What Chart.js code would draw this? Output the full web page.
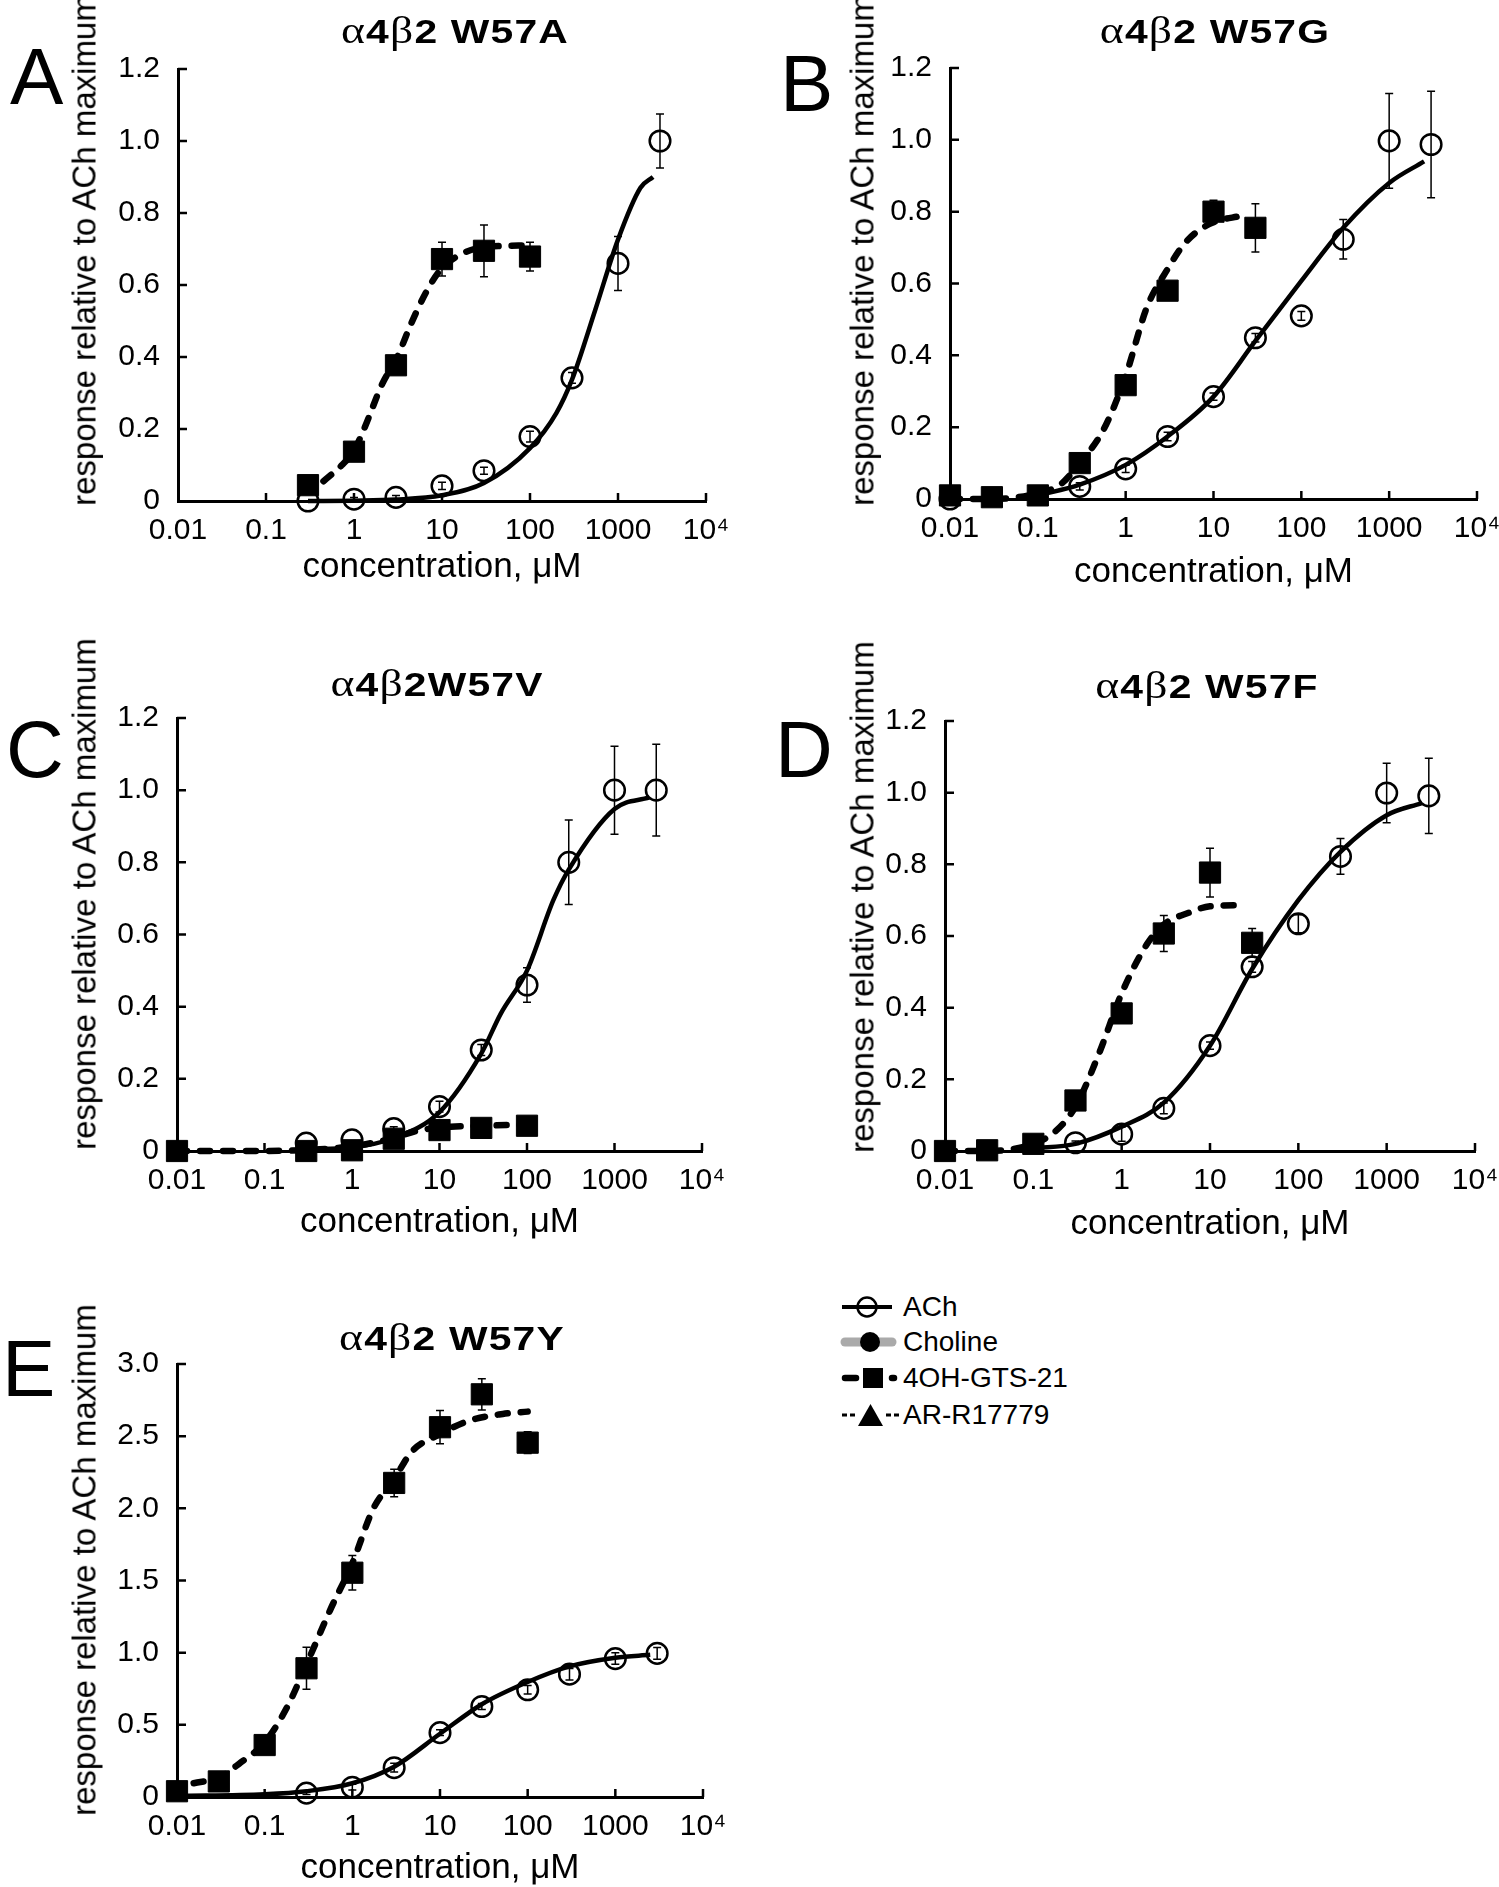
<!DOCTYPE html>
<html>
<head>
<meta charset="utf-8">
<script src="https://cdn.jsdelivr.net/npm/chart.js@4.4.0/dist/chart.umd.min.js"></script>
<style>
  body { margin: 0; background: #fff; }
  #page { position: relative; width: 1499px; height: 1887px; overflow: hidden; background: #fff;
          font-family: 'Liberation Sans', Arial, Helvetica, sans-serif; color: #000; }
  .letter { position: absolute; font-size: 80px; line-height: 80px; }
  .title { position: absolute; width: 460px; text-align: center; font-size: 34px; line-height: 36px;
           font-weight: bold; white-space: nowrap; letter-spacing: 1px; transform: scaleX(1.2); }
  .title .g { font-family: 'Liberation Serif', 'Times New Roman', serif; font-weight: normal; font-size: 38px; }
  .ylab { position: absolute; font-size: 33px; line-height: 33px; white-space: nowrap;
          transform: translate(-50%, -50%) rotate(-90deg); }
  .leg { position: absolute; left: 840px; height: 34px; display: flex; align-items: center; font-size: 28px; }
  .leg svg { width: 60px; height: 34px; margin-right: 3px; }
</style>
</head>
<body>
<div id="page">
  <div class="leg" style="top:1290px">
    <svg viewBox="0 0 60 34"><line x1="2" y1="17" x2="52" y2="17" stroke="#000" stroke-width="4"/><circle cx="27" cy="17" r="9.5" fill="none" stroke="#000" stroke-width="2.5"/></svg>ACh
  </div>
  <div class="leg" style="top:1325px">
    <svg viewBox="0 0 60 34"><line x1="5" y1="17" x2="52" y2="17" stroke="#aaa" stroke-width="9" stroke-linecap="round"/><circle cx="30" cy="17" r="10" fill="#000"/></svg>Choline
  </div>
  <div class="leg" style="top:1361px">
    <svg viewBox="0 0 60 34"><line x1="5" y1="17" x2="16" y2="17" stroke="#000" stroke-width="6.5" stroke-linecap="round"/><rect x="23" y="7" width="20" height="20" fill="#000"/><line x1="52" y1="17" x2="54" y2="17" stroke="#000" stroke-width="6.5" stroke-linecap="round"/></svg>4OH-GTS-21
  </div>
  <div class="leg" style="top:1398px">
    <svg viewBox="0 0 60 34"><path d="M2 17h5M10 17h5M46 17h5M54 17h5" stroke="#000" stroke-width="3"/><path d="M18 28 L30.5 6 L43 28 Z" fill="#000"/></svg>AR-R17779
  </div>
</div>

<script>
// concentration axis (uM) and response axis ticks
const xTickVals = [0.01, 0.1, 1, 10, 100, 1000, 10000];
const xTickLabels = ['0.01', '0.1', '1', '10', '100', '1000', '10\u2074'];
const yTicksSmall = [0, 0.2, 0.4, 0.6, 0.8, 1.0, 1.2];
const yLabelsSmall = ['0', '0.2', '0.4', '0.6', '0.8', '1.0', '1.2'];
const yTicksBig = [0, 0.5, 1.0, 1.5, 2.0, 2.5, 3.0];
const yLabelsBig = ['0', '0.5', '1.0', '1.5', '2.0', '2.5', '3.0'];

// A: W57A
const achConcA = [0.3, 1, 3, 10, 30, 100, 300, 1000, 3000];
const achRespA = [0.0, 0.005, 0.01, 0.042, 0.084, 0.179, 0.342, 0.66, 1.0];
const achErrA = [0, 0.005, 0.005, 0.01, 0.01, 0.015, 0.015, 0.075, 0.075];
const gtsConcA = [0.3, 1, 3, 10, 30, 100];
const gtsRespA = [0.044, 0.137, 0.377, 0.672, 0.695, 0.679];
const gtsErrA = [0.01, 0.01, 0.02, 0.047, 0.072, 0.04];
const achFitConcA = [0.3, 1, 3, 10, 30, 100, 200, 300, 550, 1000, 1800, 2500];
const achFitRespA = [0, 0.001, 0.004, 0.016, 0.05, 0.147, 0.245, 0.337, 0.53, 0.726, 0.87, 0.9];
const gtsFitConcA = [0.45, 0.73, 1, 1.3, 2.1, 3.1, 4.5, 6.6, 9.6, 16, 30, 100];
const gtsFitRespA = [0.055, 0.1, 0.14, 0.2, 0.326, 0.4, 0.495, 0.58, 0.642, 0.684, 0.705, 0.71];

// B: W57G
const achConcB = [0.01, 0.3, 1, 3, 10, 30, 100, 300, 1000, 3000];
const achRespB = [0, 0.035, 0.084, 0.174, 0.285, 0.449, 0.51, 0.723, 0.997, 0.987];
const achErrB = [0, 0.01, 0.01, 0.012, 0.01, 0.012, 0.012, 0.055, 0.132, 0.148];
const gtsConcB = [0.01, 0.03, 0.1, 0.3, 1, 3, 10, 30];
const gtsRespB = [0.01, 0.005, 0.01, 0.1, 0.317, 0.58, 0.8, 0.755];
const gtsErrB = [0, 0, 0, 0.01, 0.01, 0.01, 0.032, 0.067];
const achFitConcB = [0.1, 0.3, 1, 3, 10, 30, 100, 300, 1000, 2500];
const achFitRespB = [0.01, 0.04, 0.095, 0.174, 0.285, 0.44, 0.607, 0.755, 0.88, 0.94];
const gtsFitConcB = [0.01, 0.03, 0.1, 0.18, 0.3, 0.565, 1, 1.74, 3, 4.7, 8.9, 22];
const gtsFitRespB = [0, 0, 0.016, 0.04, 0.1, 0.195, 0.343, 0.533, 0.64, 0.712, 0.765, 0.79];

// C: W57V
const achConcC = [0.3, 1, 3, 10, 30, 100, 300, 1000, 3000];
const achRespC = [0.022, 0.031, 0.062, 0.123, 0.28, 0.46, 0.8, 1.0, 1.0];
const achErrC = [0, 0, 0.005, 0.015, 0.015, 0.048, 0.117, 0.122, 0.127];
const gtsConcC = [0.01, 0.3, 1, 3, 10, 30, 100];
const gtsRespC = [0, 0, 0.002, 0.034, 0.058, 0.064, 0.07];
const gtsErrC = [0, 0, 0, 0, 0, 0, 0];
const achFitConcC = [0.3, 1, 3, 10, 30, 50, 100, 200, 300, 1000, 2500];
const achFitRespC = [0.005, 0.01, 0.036, 0.108, 0.27, 0.38, 0.5, 0.695, 0.78, 0.948, 0.98];
const gtsFitConcC = [0.01, 0.1, 0.3, 1, 3, 5.3, 10, 30, 100];
const gtsFitRespC = [0, 0, 0.003, 0.013, 0.036, 0.055, 0.065, 0.07, 0.073];

// D: W57F
const achConcD = [0.3, 1, 3, 10, 30, 100, 300, 1000, 3000];
const achRespD = [0.023, 0.047, 0.119, 0.294, 0.514, 0.634, 0.822, 0.999, 0.991];
const achErrD = [0.005, 0.02, 0.015, 0.01, 0.015, 0.025, 0.05, 0.083, 0.105];
const gtsConcD = [0.01, 0.03, 0.1, 0.3, 1, 3, 10, 30];
const gtsRespD = [0, 0.002, 0.02, 0.141, 0.384, 0.607, 0.777, 0.581];
const gtsErrD = [0, 0, 0, 0.01, 0.01, 0.05, 0.068, 0.04];
const achFitConcD = [0.1, 0.3, 1, 3, 10, 30, 100, 300, 1000, 2500];
const achFitRespD = [0.007, 0.02, 0.068, 0.135, 0.294, 0.508, 0.7, 0.835, 0.937, 0.971];
const gtsFitConcD = [0.01, 0.03, 0.1, 0.18, 0.3, 0.55, 1, 1.92, 3, 5.9, 10, 23];
const gtsFitRespD = [0, 0, 0.02, 0.056, 0.124, 0.27, 0.44, 0.576, 0.632, 0.666, 0.683, 0.686];

// E: W57Y
const achConcE = [0.3, 1, 3, 10, 30, 100, 300, 1000, 3000];
const achRespE = [0.027, 0.068, 0.203, 0.446, 0.627, 0.743, 0.851, 0.959, 0.995];
const achErrE = [0.01, 0.02, 0.03, 0.02, 0.02, 0.03, 0.04, 0.04, 0.04];
const gtsConcE = [0.01, 0.03, 0.1, 0.3, 1, 3, 10, 30, 100];
const gtsRespE = [0.04, 0.108, 0.36, 0.892, 1.554, 2.176, 2.562, 2.79, 2.455];
const gtsErrE = [0, 0, 0, 0.145, 0.12, 0.095, 0.115, 0.108, 0.075];
const achFitConcE = [0.01, 0.1, 0.3, 1, 3, 10, 30, 100, 300, 1000, 2500];
const achFitRespE = [0.008, 0.019, 0.04, 0.095, 0.21, 0.438, 0.643, 0.797, 0.905, 0.965, 0.985];
const gtsFitConcE = [0.0155, 0.03, 0.051, 0.1, 0.18, 0.3, 0.56, 1, 1.74, 3, 4.75, 10, 21.6, 52, 100];
const gtsFitRespE = [0.095, 0.135, 0.23, 0.378, 0.622, 0.919, 1.297, 1.62, 2.0, 2.203, 2.392, 2.514, 2.608, 2.654, 2.67];

const FONT = "'Liberation Sans', Arial, Helvetica, sans-serif";
const TICK_SIZE = 30, XTITLE_SIZE = 35;
const AXIS_W = 110, PAD_T = 24, PAD_R = 44;

const panels = [
  { letter: 'A', letterAt: [10, 37], title: '<span class="g">\u03b1</span>4<span class="g">\u03b2</span>2 W57A', titleAt: [455, 30],
    area: { l: 178, r: 706, t: 65, b: 501 }, xTitleY: 567, yTitleAt: [84, 250], yMax: 1.2, yTicks: yTicksSmall, yLabels: yLabelsSmall,
    ach: [achConcA, achRespA, achErrA], gts: [gtsConcA, gtsRespA, gtsErrA], achFit: [achFitConcA, achFitRespA], gtsFit: [gtsFitConcA, gtsFitRespA] },
  { letter: 'B', letterAt: [780, 44], title: '<span class="g">\u03b1</span>4<span class="g">\u03b2</span>2 W57G', titleAt: [1215, 30],
    area: { l: 950, r: 1477, t: 64, b: 499 }, xTitleY: 572, yTitleAt: [862, 250], yMax: 1.2, yTicks: yTicksSmall, yLabels: yLabelsSmall,
    ach: [achConcB, achRespB, achErrB], gts: [gtsConcB, gtsRespB, gtsErrB], achFit: [achFitConcB, achFitRespB], gtsFit: [gtsFitConcB, gtsFitRespB] },
  { letter: 'C', letterAt: [6, 710], title: '<span class="g">\u03b1</span>4<span class="g">\u03b2</span>2W57V', titleAt: [437, 683],
    area: { l: 177, r: 702, t: 714, b: 1151 }, xTitleY: 1222, yTitleAt: [84, 894], yMax: 1.2, yTicks: yTicksSmall, yLabels: yLabelsSmall,
    ach: [achConcC, achRespC, achErrC], gts: [gtsConcC, gtsRespC, gtsErrC], achFit: [achFitConcC, achFitRespC], gtsFit: [gtsFitConcC, gtsFitRespC] },
  { letter: 'D', letterAt: [775, 710], title: '<span class="g">\u03b1</span>4<span class="g">\u03b2</span>2 W57F', titleAt: [1207, 685],
    area: { l: 945, r: 1475, t: 717, b: 1151 }, xTitleY: 1224, yTitleAt: [862, 897], yMax: 1.2, yTicks: yTicksSmall, yLabels: yLabelsSmall,
    ach: [achConcD, achRespD, achErrD], gts: [gtsConcD, gtsRespD, gtsErrD], achFit: [achFitConcD, achFitRespD], gtsFit: [gtsFitConcD, gtsFitRespD] },
  { letter: 'E', letterAt: [2, 1329], title: '<span class="g">\u03b1</span>4<span class="g">\u03b2</span>2 W57Y', titleAt: [452, 1337],
    area: { l: 177, r: 703, t: 1360, b: 1797 }, xTitleY: 1868, yTitleAt: [84, 1560], yMax: 3.0, yTicks: yTicksBig, yLabels: yLabelsBig,
    ach: [achConcE, achRespE, achErrE], gts: [gtsConcE, gtsRespE, gtsErrE], achFit: [achFitConcE, achFitRespE], gtsFit: [gtsFitConcE, gtsFitRespE] }
];

function pts(xs, ys) {
  return xs.map((x, i) => ({ x: x, y: ys[i] }));
}

// vertical error bars with small caps, drawn over the markers
const errorBars = {
  id: 'errorBars',
  afterDatasetsDraw(chart) {
    const { ctx, scales: { x, y } } = chart;
    ctx.save();
    ctx.strokeStyle = '#000';
    ctx.lineWidth = 1.5;
    chart.data.datasets.forEach(ds => {
      if (!ds.errors) return;
      ds.data.forEach((p, i) => {
        const e = ds.errors[i];
        if (!e) return;
        const px = x.getPixelForValue(p.x);
        const top = y.getPixelForValue(p.y + e);
        const bot = y.getPixelForValue(Math.max(p.y - e, 0));
        ctx.beginPath();
        ctx.moveTo(px, top); ctx.lineTo(px, bot);
        ctx.moveTo(px - 4, top); ctx.lineTo(px + 4, top);
        ctx.moveTo(px - 4, bot); ctx.lineTo(px + 4, bot);
        ctx.stroke();
      });
    });
    ctx.restore();
  }
};

// short tick marks pointing into the plot area
const innerTicks = {
  id: 'innerTicks',
  afterDraw(chart) {
    const { ctx, chartArea, scales: { x, y } } = chart;
    ctx.save();
    ctx.strokeStyle = '#000';
    ctx.lineWidth = 2.5;
    ctx.beginPath();
    x.ticks.forEach((t, i) => {
      if (i === 0) return;
      const px = x.getPixelForValue(t.value);
      ctx.moveTo(px, chartArea.bottom);
      ctx.lineTo(px, chartArea.bottom - 8);
    });
    y.ticks.forEach((t, i) => {
      if (i === 0) return;
      const py = y.getPixelForValue(t.value);
      ctx.moveTo(chartArea.left, py);
      ctx.lineTo(chartArea.left + 9, py);
    });
    ctx.stroke();
    ctx.restore();
  }
};

function addText(cls, html, left, top) {
  const d = document.createElement('div');
  d.className = cls;
  d.innerHTML = html;
  d.style.left = left + 'px';
  d.style.top = top + 'px';
  document.getElementById('page').appendChild(d);
  return d;
}

function drawPanel(p) {
  const a = p.area;
  const xAxisH = Math.round(p.xTitleY + XTITLE_SIZE * 0.6 - a.b);
  const w = a.r - a.l + AXIS_W + PAD_R;
  const h = a.b - a.t + PAD_T + xAxisH;
  const canvas = document.createElement('canvas');
  canvas.width = w;
  canvas.height = h;
  canvas.style.cssText = 'position:absolute;left:' + (a.l - AXIS_W) + 'px;top:' + (a.t - PAD_T) + 'px;width:' + w + 'px;height:' + h + 'px';
  document.getElementById('page').appendChild(canvas);

  addText('letter', p.letter, p.letterAt[0], p.letterAt[1]);
  addText('title', p.title, p.titleAt[0] - 230, p.titleAt[1] - 18);
  addText('ylab', 'response relative to ACh maximum', p.yTitleAt[0], p.yTitleAt[1]);

  new Chart(canvas, {
    type: 'scatter',
    data: {
      datasets: [
        {
          data: pts(p.gts[0], p.gts[1]), errors: p.gts[2],
          pointStyle: 'rect', pointRadius: 15, pointBackgroundColor: '#000', pointBorderColor: '#000', pointBorderWidth: 1,
          showLine: false, clip: false
        },
        {
          data: pts(p.ach[0], p.ach[1]), errors: p.ach[2],
          pointStyle: 'circle', pointRadius: 10.3, pointBackgroundColor: 'rgba(0,0,0,0)', pointBorderColor: '#000', pointBorderWidth: 2.5,
          showLine: false, clip: false
        },
        {
          data: pts(p.gtsFit[0], p.gtsFit[1]),
          showLine: true, pointRadius: 0, borderColor: '#000', borderWidth: 6.5, borderDash: [10, 13], borderCapStyle: 'round',
          cubicInterpolationMode: 'monotone', fill: false, clip: false
        },
        {
          data: pts(p.achFit[0], p.achFit[1]),
          showLine: true, pointRadius: 0, borderColor: '#000', borderWidth: 4.5,
          cubicInterpolationMode: 'monotone', fill: false, clip: false
        }
      ]
    },
    options: {
      responsive: false,
      animation: false,
      layout: { padding: { top: PAD_T, right: PAD_R, left: 0, bottom: 0 } },
      plugins: { legend: { display: false }, tooltip: { enabled: false } },
      scales: {
        x: {
          type: 'logarithmic', min: 0.01, max: 10000,
          afterBuildTicks: s => { s.ticks = xTickVals.map(v => ({ value: v })); },
          afterFit: s => { s.height = xAxisH; },
          grid: { display: false },
          border: { display: true, color: '#000', width: 3 },
          ticks: { autoSkip: false, maxRotation: 0, padding: 4, color: '#000', font: { family: FONT, size: TICK_SIZE },
                   callback: (v, i) => xTickLabels[i] },
          title: { display: true, text: 'concentration, \u03bcM', color: '#000', font: { family: FONT, size: XTITLE_SIZE }, padding: 0 }
        },
        y: {
          type: 'linear', min: 0, max: p.yMax,
          afterBuildTicks: s => { s.ticks = p.yTicks.map(v => ({ value: v })); },
          afterFit: s => { s.width = AXIS_W; },
          grid: { display: false },
          border: { display: true, color: '#000', width: 3 },
          ticks: { padding: 10, color: '#000', font: { family: FONT, size: TICK_SIZE },
                   callback: (v, i) => p.yLabels[i] }
        }
      }
    },
    plugins: [errorBars, innerTicks]
  });
}

panels.forEach(drawPanel);
</script>
</body>
</html>
